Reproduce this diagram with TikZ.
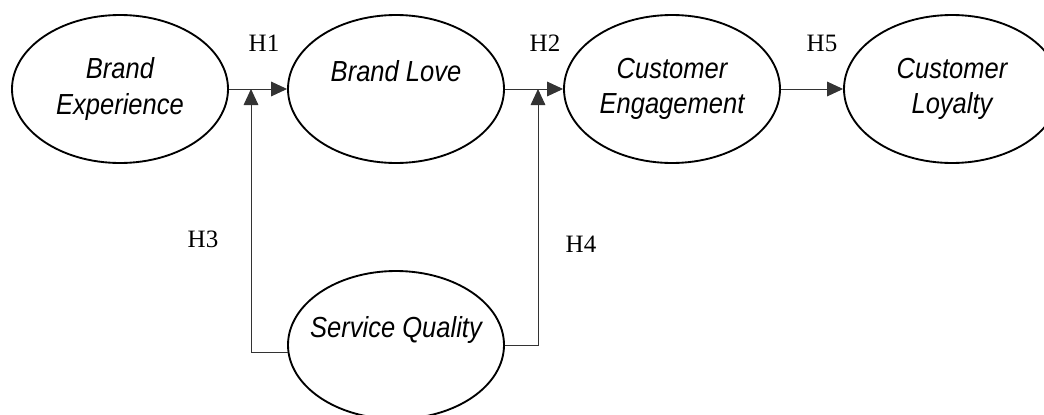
\documentclass[tikz,border=0pt]{standalone}
\usepackage{fontspec}
\setmainfont{Liberation Serif}
\setsansfont{Liberation Sans}[FakeStretch=0.88]
\usepackage{tikz}
\usetikzlibrary{shapes.geometric,arrows.meta}
\definecolor{ink}{HTML}{000000}
\definecolor{wire}{HTML}{333333}
\tikzset{
  construct/.style={ellipse, draw=ink, line width=1.4pt, inner xsep=-12pt, inner ysep=0pt,
    minimum width=162pt, minimum height=111pt, align=center,
    font=\fontsize{21.75pt}{26.5pt}\selectfont\sffamily\itshape},
  link/.style={draw=wire, line width=0.7pt, -{Triangle[length=12pt,width=11pt]}},
  hyp/.style={anchor=base, inner sep=0pt, font=\fontsize{18.75pt}{22pt}\selectfont},
}

\begin{document}
\begin{tikzpicture}[x=0.75pt,y=-0.75pt]
  \useasboundingbox (0,0) rectangle (1044,414);

  \node[construct] (be) at (120,89) {Brand\\Experience};
  \node[construct] (bl) at (396,89) {Brand Love\\\phantom{L}};
  \node[construct] (ce) at (672,89) {Customer\\Engagement};
  \node[construct] (cl) at (952,89) {Customer\\Loyalty};
  \node[construct] (sq) at (396,345) {Service Quality\\\phantom{S}};

  \coordinate (m1) at (251,89);
  \coordinate (m2) at (538,89);

  \draw[link] (be.east) -- (bl.west);
  \draw[link] (bl.east) -- (ce.west);
  \draw[link] (ce.east) -- (cl.west);
  \draw[link] (sq.184) -| (m1);
  \draw[link] (sq.east) -| (m2);

  \node[hyp] (h1) at (264,51) {H1};
  \node[hyp] (h2) at (545,51) {H2};
  \node[hyp] (h5) at (822,51) {H5};
  \node[hyp] (h3) at (203,247) {H3};
  \node[hyp] (h4) at (581,252) {H4};
\end{tikzpicture}
\end{document}
